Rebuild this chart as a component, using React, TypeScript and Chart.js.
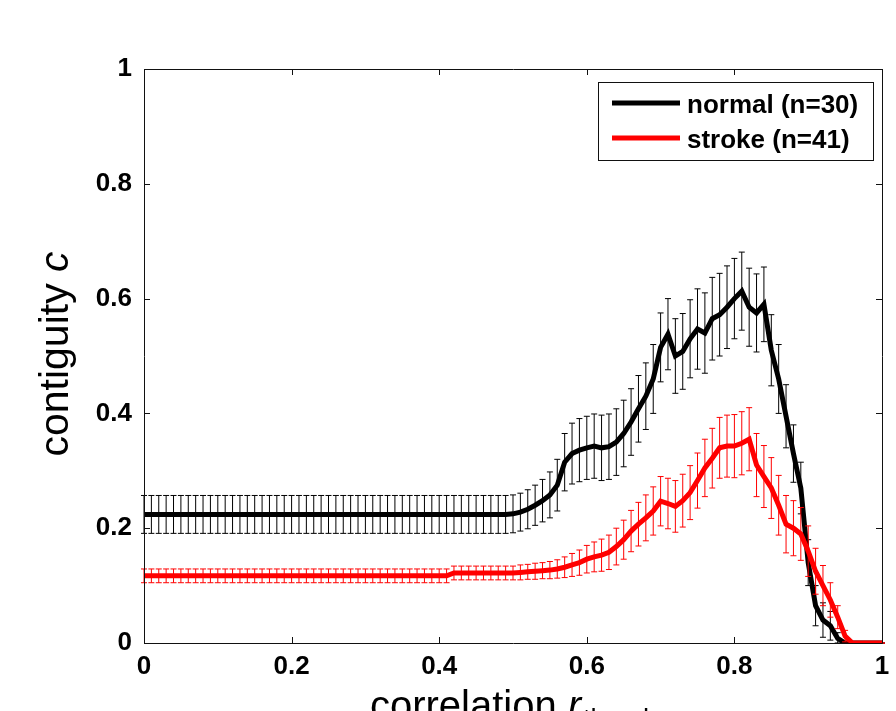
import React, { useEffect, useRef } from 'react';
import { Chart, registerables } from 'chart.js';

Chart.register(...registerables);

// correlation threshold grid (0 .. 1, step 0.01)
const rThresh: number[] = Array.from({ length: 101 }, (_, i) => i / 100);

const normalMean: number[] = [
  0.224, 0.224, 0.224, 0.224, 0.224, 0.224, 0.224, 0.224, 0.224, 0.224,
  0.224, 0.224, 0.224, 0.224, 0.224, 0.224, 0.224, 0.224, 0.224, 0.224,
  0.224, 0.224, 0.224, 0.224, 0.224, 0.224, 0.224, 0.224, 0.224, 0.224,
  0.224, 0.224, 0.224, 0.224, 0.224, 0.224, 0.224, 0.224, 0.224, 0.224,
  0.224, 0.224, 0.224, 0.224, 0.224, 0.224, 0.224, 0.224, 0.224, 0.224,
  0.225, 0.228, 0.233, 0.240, 0.248, 0.258, 0.275, 0.315, 0.330, 0.336,
  0.340, 0.343, 0.340, 0.342, 0.350, 0.365, 0.385, 0.408, 0.430, 0.460,
  0.515, 0.538, 0.500, 0.508, 0.530, 0.547, 0.540, 0.565, 0.572, 0.585,
  0.600, 0.613, 0.585, 0.575, 0.590, 0.510, 0.460, 0.395, 0.330, 0.270,
  0.140, 0.065, 0.040, 0.030, 0.008, 0, 0, 0, 0, 0,
  0,
];

const normalErr: number[] = [
  0.033, 0.033, 0.033, 0.033, 0.033, 0.033, 0.033, 0.033, 0.033, 0.033,
  0.033, 0.033, 0.033, 0.033, 0.033, 0.033, 0.033, 0.033, 0.033, 0.033,
  0.033, 0.033, 0.033, 0.033, 0.033, 0.033, 0.033, 0.033, 0.033, 0.033,
  0.033, 0.033, 0.033, 0.033, 0.033, 0.033, 0.033, 0.033, 0.033, 0.033,
  0.033, 0.033, 0.033, 0.033, 0.033, 0.033, 0.033, 0.033, 0.033, 0.033,
  0.033, 0.033, 0.034, 0.035, 0.037, 0.040, 0.045, 0.050, 0.053, 0.055,
  0.055, 0.056, 0.057, 0.057, 0.058, 0.058, 0.058, 0.058, 0.058, 0.060,
  0.060, 0.062, 0.065, 0.066, 0.068, 0.070, 0.070, 0.072, 0.072, 0.072,
  0.070, 0.068, 0.068, 0.068, 0.065, 0.062, 0.060, 0.055, 0.050, 0.045,
  0.040, 0.035, 0.030, 0.025, 0.010, 0, 0, 0, 0, 0,
  0,
];

const strokeMean: number[] = [
  0.117, 0.117, 0.117, 0.117, 0.117, 0.117, 0.117, 0.117, 0.117, 0.117,
  0.117, 0.117, 0.117, 0.117, 0.117, 0.117, 0.117, 0.117, 0.117, 0.117,
  0.117, 0.117, 0.117, 0.117, 0.117, 0.117, 0.117, 0.117, 0.117, 0.117,
  0.117, 0.117, 0.117, 0.117, 0.117, 0.117, 0.117, 0.117, 0.117, 0.117,
  0.117, 0.117, 0.122, 0.122, 0.122, 0.122, 0.122, 0.122, 0.122, 0.122,
  0.122, 0.123, 0.124, 0.125, 0.126, 0.127, 0.129, 0.132, 0.136, 0.140,
  0.146, 0.150, 0.153, 0.158, 0.168, 0.180, 0.195, 0.207, 0.218, 0.230,
  0.247, 0.243, 0.238, 0.248, 0.262, 0.283, 0.305, 0.322, 0.340, 0.343,
  0.343, 0.348, 0.355, 0.310, 0.290, 0.270, 0.240, 0.207, 0.200, 0.190,
  0.160, 0.125, 0.100, 0.075, 0.045, 0.012, 0, 0, 0, 0,
  0,
];

const strokeErr: number[] = [
  0.012, 0.012, 0.012, 0.012, 0.012, 0.012, 0.012, 0.012, 0.012, 0.012,
  0.012, 0.012, 0.012, 0.012, 0.012, 0.012, 0.012, 0.012, 0.012, 0.012,
  0.012, 0.012, 0.012, 0.012, 0.012, 0.012, 0.012, 0.012, 0.012, 0.012,
  0.012, 0.012, 0.012, 0.012, 0.012, 0.012, 0.012, 0.012, 0.012, 0.012,
  0.012, 0.012, 0.012, 0.012, 0.012, 0.012, 0.012, 0.012, 0.012, 0.012,
  0.012, 0.013, 0.013, 0.014, 0.014, 0.015, 0.016, 0.018, 0.020, 0.022,
  0.024, 0.026, 0.028, 0.030, 0.032, 0.034, 0.036, 0.038, 0.040, 0.042,
  0.043, 0.044, 0.045, 0.046, 0.047, 0.048, 0.050, 0.052, 0.053, 0.054,
  0.055, 0.055, 0.055, 0.055, 0.054, 0.053, 0.052, 0.050, 0.048, 0.046,
  0.044, 0.040, 0.035, 0.030, 0.020, 0.010, 0, 0, 0, 0,
  0,
];

const seriesLabels: string[] = ['normal (n=30)', 'stroke (n=41)'];
const seriesColors: string[] = ['#000000', '#ff0000'];
const axisTicks: number[] = [0, 0.2, 0.4, 0.6, 0.8, 1];

const errorSets: number[][] = [normalErr, strokeErr];
const meanSets: number[][] = [normalMean, strokeMean];

const FONT = '"Liberation Sans", Arial, Helvetica, sans-serif';

const errorBarPlugin = {
  id: 'errorBars',
  beforeDatasetDraw(chart: any, args: any) {
    const idx = args.index;
    const errs = errorSets[idx];
    const means = meanSets[idx];
    const { ctx, scales } = chart;
    const xs = scales.x;
    const ys = scales.y;
    ctx.save();
    ctx.strokeStyle = seriesColors[idx];
    ctx.lineWidth = 1;
    const cap = 3;
    for (let i = 0; i < rThresh.length; i++) {
      const px = xs.getPixelForValue(rThresh[i]);
      const top = ys.getPixelForValue(means[i] + errs[i]);
      const bot = ys.getPixelForValue(Math.max(means[i] - errs[i], 0));
      ctx.beginPath();
      ctx.moveTo(px, top);
      ctx.lineTo(px, bot);
      ctx.moveTo(px - cap, top);
      ctx.lineTo(px + cap, top);
      ctx.moveTo(px - cap, bot);
      ctx.lineTo(px + cap, bot);
      ctx.stroke();
    }
    ctx.restore();
  },
};

const framePlugin = {
  id: 'frame',
  afterDraw(chart: any) {
    const { ctx, chartArea, scales } = chart;
    const { left, right, top, bottom } = chartArea;
    const xs = scales.x;
    const ys = scales.y;
    ctx.save();
    // box
    ctx.strokeStyle = '#111';
    ctx.lineWidth = 1;
    ctx.beginPath();
    ctx.rect(Math.round(left) + 0.5, Math.round(top) + 0.5, Math.round(right - left), Math.round(bottom - top));
    ctx.stroke();
    // inward ticks
    const tl = 6;
    ctx.beginPath();
    axisTicks.forEach((t) => {
      const px = Math.round(xs.getPixelForValue(t)) + 0.5;
      ctx.moveTo(px, bottom);
      ctx.lineTo(px, bottom - tl);
      ctx.moveTo(px, top);
      ctx.lineTo(px, top + tl);
      const py = Math.round(ys.getPixelForValue(t)) + 0.5;
      ctx.moveTo(left, py);
      ctx.lineTo(left + tl, py);
      ctx.moveTo(right, py);
      ctx.lineTo(right - tl, py);
    });
    ctx.stroke();

    // legend
    const lx = 598.5, ly = 82.5, lw = 275, lh = 78;
    ctx.fillStyle = '#fff';
    ctx.fillRect(lx, ly, lw, lh);
    ctx.strokeStyle = '#111';
    ctx.lineWidth = 1;
    ctx.strokeRect(lx, ly, lw, lh);
    const rows = [103, 138];
    const textRows = [105.5, 141];
    seriesLabels.forEach((lab, i) => {
      ctx.strokeStyle = seriesColors[i];
      ctx.lineWidth = 5;
      ctx.beginPath();
      ctx.moveTo(612, rows[i]);
      ctx.lineTo(680, rows[i]);
      ctx.stroke();
      ctx.fillStyle = '#000';
      ctx.font = `bold 26px ${FONT}`;
      ctx.textBaseline = 'middle';
      ctx.textAlign = 'left';
      ctx.fillText(lab, 687, textRows[i]);
    });

    // y title: "contiguity c" (c italic)
    ctx.save();
    ctx.translate(68, 354);
    ctx.rotate(-Math.PI / 2);
    ctx.fillStyle = '#000';
    ctx.textBaseline = 'alphabetic';
    ctx.textAlign = 'left';
    const yPart1 = 'contiguity ';
    const yPart2 = 'c';
    ctx.font = `41px ${FONT}`;
    const w1 = ctx.measureText(yPart1).width;
    ctx.font = `italic 41px ${FONT}`;
    const w2 = ctx.measureText(yPart2).width;
    const sx = -(w1 + w2) / 2;
    ctx.font = `41px ${FONT}`;
    ctx.fillText(yPart1, sx, 0);
    ctx.font = `italic 41px ${FONT}`;
    ctx.fillText(yPart2, sx + w1, 0);
    ctx.restore();

    // x title: "correlation r_thresh"
    const xPart1 = 'correlation ';
    const xPart2 = 'r';
    const xSub = 'thresh';
    ctx.font = `40px ${FONT}`;
    const a = ctx.measureText(xPart1).width;
    ctx.font = `italic 40px ${FONT}`;
    const b = ctx.measureText(xPart2).width;
    ctx.font = `27px ${FONT}`;
    const c = ctx.measureText(xSub).width;
    const cx = (left + right) / 2;
    const x0 = cx - (a + b + c) / 2;
    const base = 719;
    ctx.fillStyle = '#000';
    ctx.textBaseline = 'alphabetic';
    ctx.textAlign = 'left';
    ctx.font = `40px ${FONT}`;
    ctx.fillText(xPart1, x0, base);
    ctx.font = `italic 40px ${FONT}`;
    ctx.fillText(xPart2, x0 + a, base);
    ctx.font = `27px ${FONT}`;
    ctx.fillText(xSub, x0 + a + b + 2, base + 9);
    ctx.restore();
  },
};

const fmt = (v: any) => {
  const n = Number(v);
  return String(Math.round(n * 10) / 10);
};

export default function App() {
  const canvasRef = useRef<HTMLCanvasElement | null>(null);

  useEffect(() => {
    if (!canvasRef.current) return;
    const chart = new Chart(canvasRef.current, {
      type: 'line',
      data: {
        datasets: [
          {
            label: seriesLabels[0],
            data: rThresh.map((x, i) => ({ x, y: normalMean[i] })),
            borderColor: seriesColors[0],
            backgroundColor: seriesColors[0],
            borderWidth: 5,
            pointRadius: 0,
            tension: 0,
            order: 2,
          },
          {
            label: seriesLabels[1],
            data: rThresh.map((x, i) => ({ x, y: strokeMean[i] })),
            borderColor: seriesColors[1],
            backgroundColor: seriesColors[1],
            borderWidth: 5,
            pointRadius: 0,
            tension: 0,
            order: 1,
          },
        ],
      },
      options: {
        responsive: false,
        animation: false,
        layout: { padding: { top: 69, right: 14, bottom: 0, left: 0 } },
        plugins: {
          legend: { display: false },
          tooltip: { enabled: false },
          title: { display: false },
        },
        scales: {
          x: {
            type: 'linear',
            min: 0,
            max: 1,
            grid: { display: false },
            border: { display: false },
            ticks: {
              stepSize: 0.2,
              color: '#000',
              padding: 0,
              maxRotation: 0,
              font: { family: FONT, size: 26, weight: 'bold' },
              callback: fmt,
            },
            afterFit: (s: any) => {
              s.height = 68;
            },
          },
          y: {
            type: 'linear',
            min: 0,
            max: 1,
            grid: { display: false },
            border: { display: false },
            ticks: {
              stepSize: 0.2,
              color: '#000',
              padding: 4,
              font: { family: FONT, size: 26, weight: 'bold' },
              callback: fmt,
            },
            afterFit: (s: any) => {
              s.width = 144;
            },
          },
        },
      } as any,
      plugins: [errorBarPlugin, framePlugin],
    });
    return () => chart.destroy();
  }, []);

  return (
    <div style={{ position: 'fixed', left: 0, top: 0, width: 896, height: 711, background: '#fff', overflow: 'hidden' }}>
      <canvas ref={canvasRef} width={896} height={711} style={{ width: 896, height: 711, display: 'block' }} />
    </div>
  );
}
